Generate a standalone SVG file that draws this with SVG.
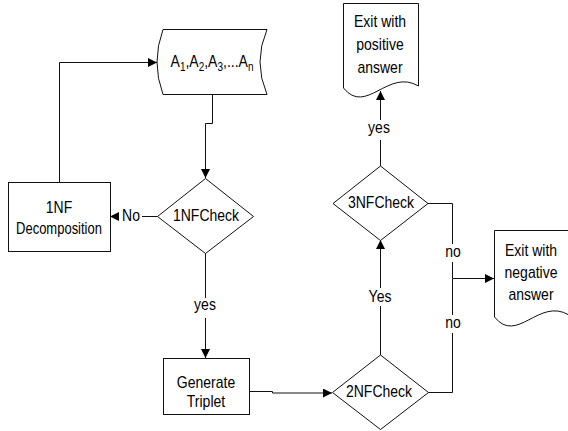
<svg xmlns="http://www.w3.org/2000/svg" width="568" height="431" viewBox="0 0 568 431">
<defs>
<marker id="ah" markerWidth="10" markerHeight="9" refX="9" refY="4.5" orient="auto" markerUnits="userSpaceOnUse"><path d="M0,0 L9,4.5 L0,9 Z" fill="#000"/></marker>
<style>
.s{fill:#fff;stroke:#111;stroke-width:1}
.c{fill:none;stroke:#111;stroke-width:1}
.a{marker-end:url(#ah)}
.t{font-family:"Liberation Sans",Arial,sans-serif;font-size:14px;fill:#000;text-anchor:middle}
.bg{fill:#fff;stroke:none}
</style>
</defs>
<rect width="568" height="431" fill="#fff"/>
<g id="connectors">
<path class="c a" d="M59.5,182 V62.5 H157"/>
<path class="c a" d="M212.5,94 V123.5 H205.5 V178"/>
<path class="c a" d="M157.5,216.5 H110"/>
<path class="c a" d="M205.5,253.5 V358"/>
<path class="c a" d="M249,391.5 H272.5 V393 H332"/>
<path class="c a" d="M380.5,355 V240"/>
<path class="c a" d="M380.5,166 V91"/>
<path class="c a" d="M428,203.5 H452.5 V278.5 H494"/>
<path class="c" d="M428,392.5 H452.5 V278.5"/>
<rect class="bg" x="119" y="208" width="23" height="17"/>
<text class="t" transform="translate(131,221) scale(1,1.2)">No</text>
<rect class="bg" x="193" y="298" width="25" height="20"/>
<text class="t" transform="translate(205,310) scale(1,1.2)">yes</text>
<rect class="bg" x="367" y="288" width="27" height="18"/>
<text class="t" transform="translate(380,302) scale(1,1.2)">Yes</text>
<rect class="bg" x="445" y="244" width="16" height="18"/>
<text class="t" transform="translate(453,257) scale(1,1.2)">no</text>
<rect class="bg" x="445" y="315" width="16" height="18"/>
<text class="t" transform="translate(453,328) scale(1,1.2)">no</text>
<rect class="bg" x="367" y="120" width="26" height="20"/>
<text class="t" transform="translate(379,133) scale(1,1.2)">yes</text>
</g>
<g id="stored">
<path class="s" d="M163,29.5 H267 Q253,62 267,94.5 H163 Q151,62 163,29.5 Z"/>
<text class="t" transform="translate(212,67) scale(1,1.2)">A<tspan font-size="10" dy="3">1</tspan><tspan dy="-3">,A</tspan><tspan font-size="10" dy="3">2</tspan><tspan dy="-3">,A</tspan><tspan font-size="10" dy="3">3</tspan><tspan dy="-3">,...A</tspan><tspan font-size="10" dy="3">n</tspan></text>
</g>
<g id="decomp">
<rect class="s" x="8.5" y="182.5" width="102" height="69"/>
<text class="t" transform="translate(59,213) scale(1,1.2)"><tspan x="0">1NF</tspan><tspan x="0" dy="17.5" font-size="13">Decomposition</tspan></text>
</g>
<g id="check1">
<path class="s" d="M205.5,178.5 L253.5,216.5 L205.5,253.5 L157.5,216.5 Z"/>
<text class="t" transform="translate(206,221) scale(1,1.2)">1NFCheck</text>
</g>
<g id="triplet">
<rect class="s" x="163.5" y="358.5" width="86" height="56"/>
<text class="t" transform="translate(206,388) scale(1,1.2)"><tspan x="0">Generate</tspan><tspan x="0" dy="15.8">Triplet</tspan></text>
</g>
<g id="check2">
<path class="s" d="M380.5,355 L428.5,392.5 L380.5,429.5 L332.5,392.5 Z"/>
<text class="t" transform="translate(379,397) scale(1,1.2)">2NFCheck</text>
</g>
<g id="check3">
<path class="s" d="M380.5,166 L428,203.5 L380.5,240.5 L333,203.5 Z"/>
<text class="t" transform="translate(381,208) scale(1,1.2)">3NFCheck</text>
</g>
<g id="positive">
<path class="s" d="M343.5,3.5 V88 C366,116 388,68 418.5,86 V3.5 Z"/>
<text class="t" transform="translate(380,27) scale(1,1.2)"><tspan x="0">Exit with</tspan><tspan x="0" dy="19.2">positive</tspan><tspan x="0" dy="19.2">answer</tspan></text>
</g>
<g id="negative">
<path class="s" d="M494.5,230.5 V317 C517,345 539,297 569,315 V230.5 Z"/>
<text class="t" transform="translate(531,256) scale(1,1.2)"><tspan x="0">Exit with</tspan><tspan x="0" dy="18.3">negative</tspan><tspan x="0" dy="18.3">answer</tspan></text>
</g>
</svg>
